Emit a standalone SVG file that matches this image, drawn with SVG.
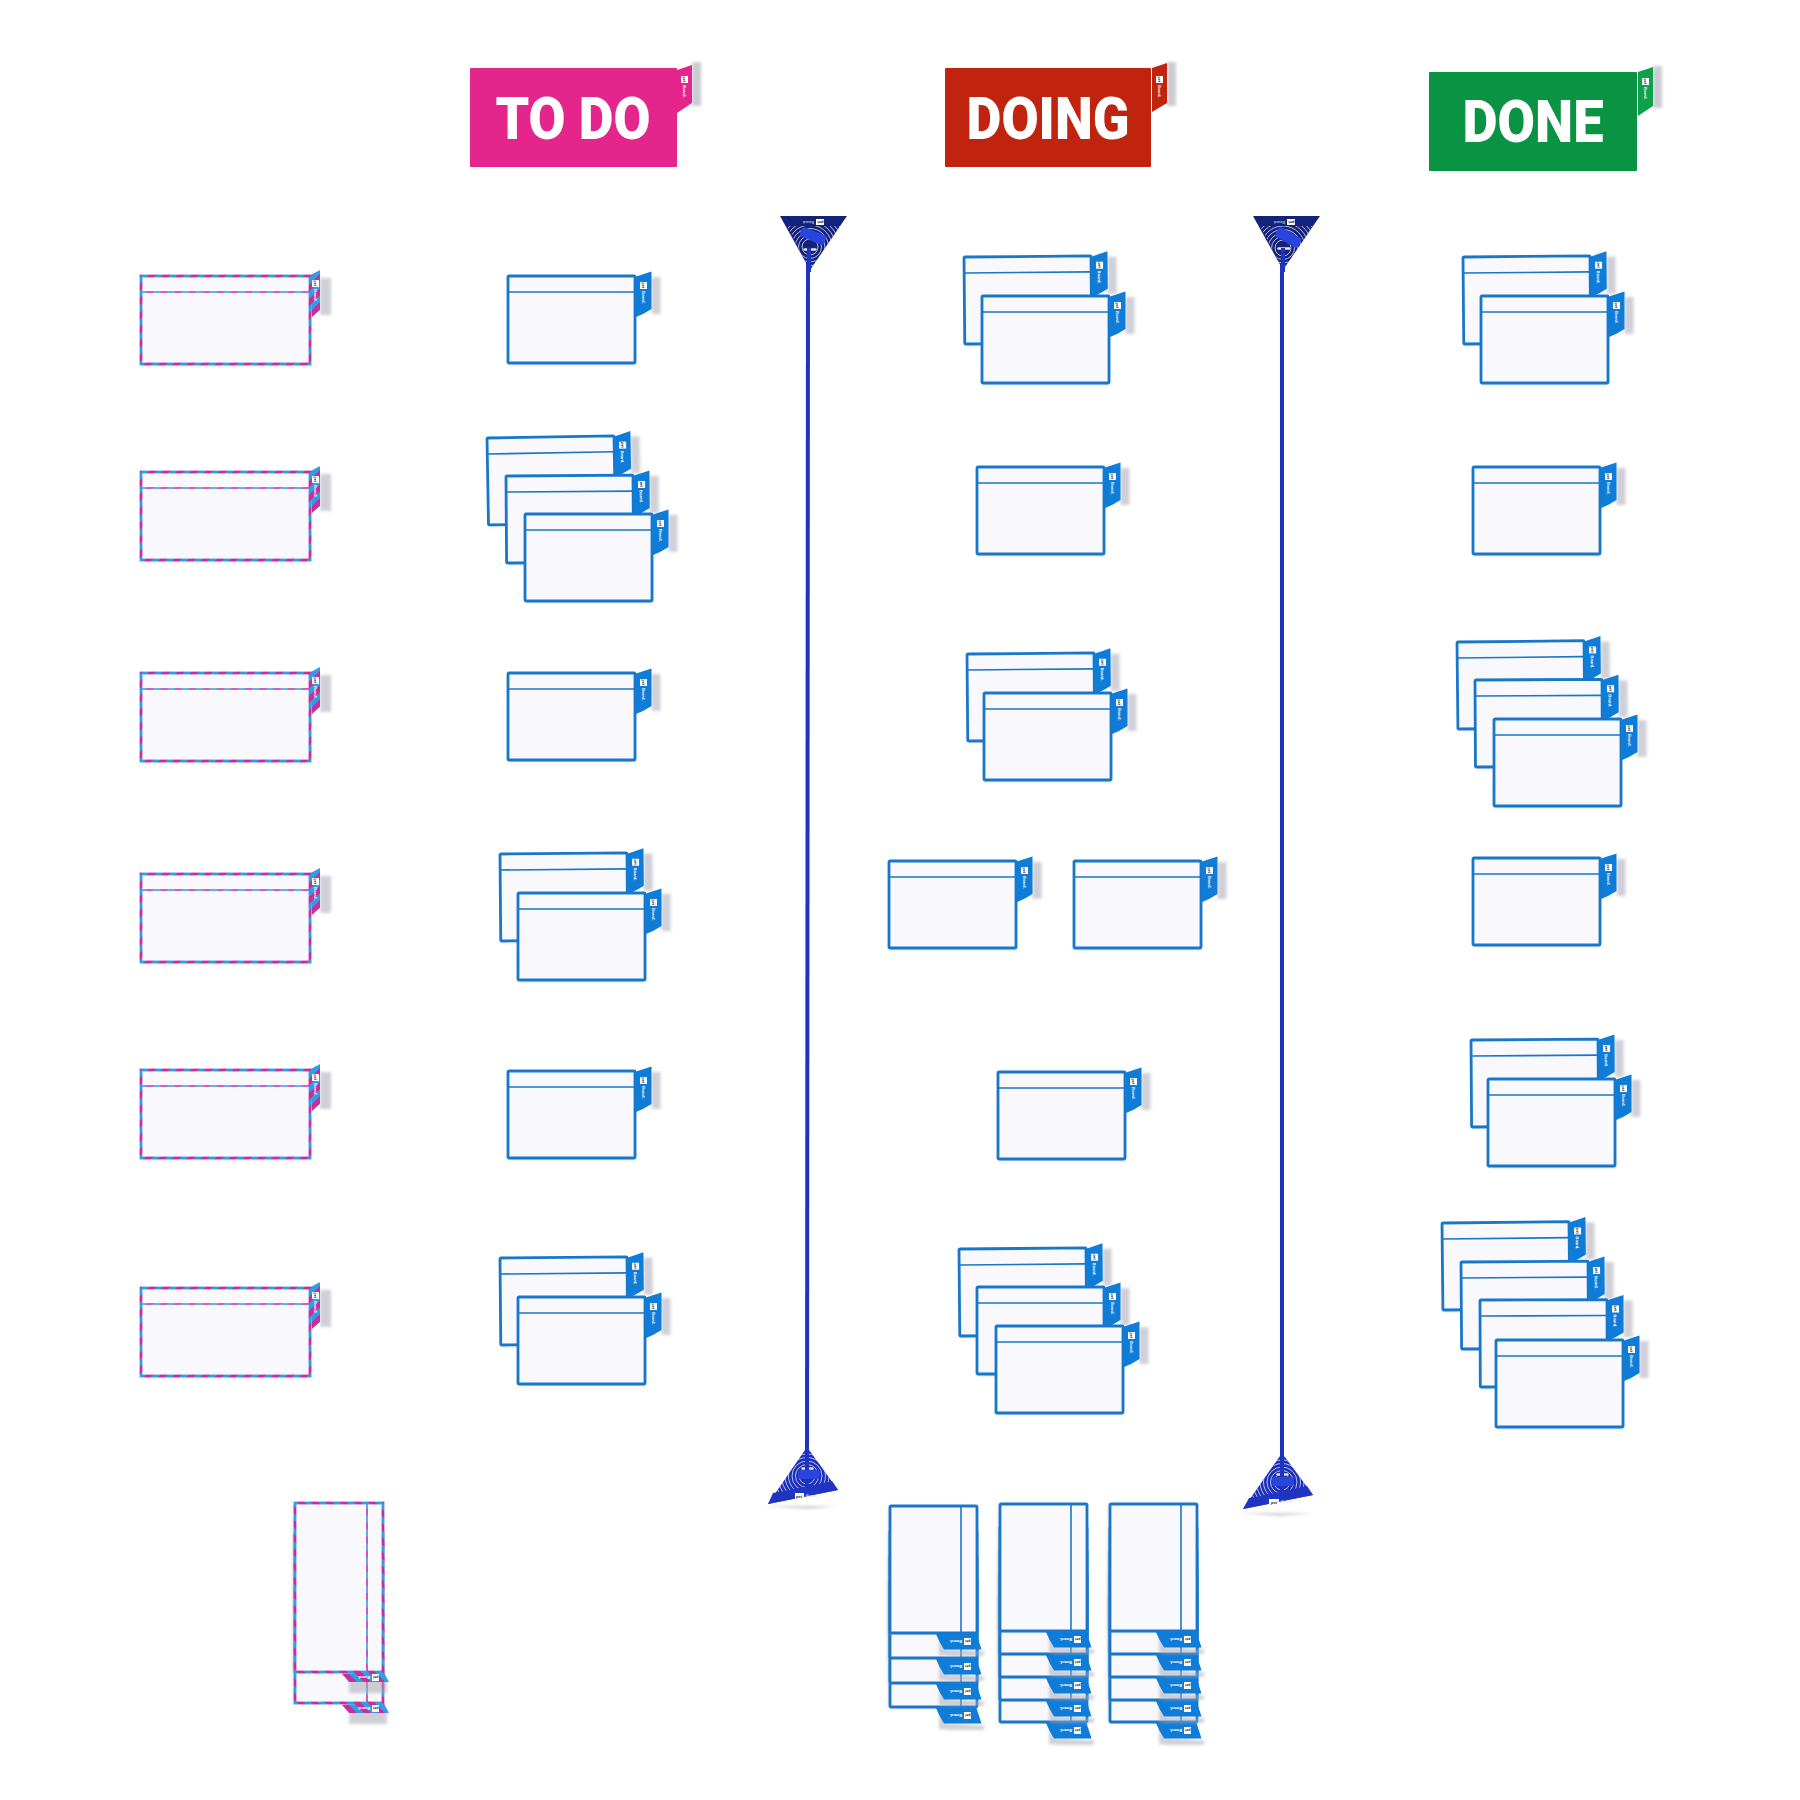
<svg xmlns="http://www.w3.org/2000/svg" width="1800" height="1800" viewBox="0 0 1800 1800">
<style>
.face{fill:#f8f8fd}
.bb{fill:none;stroke:#1877c9;stroke-width:2.8}
.bl{stroke:#1877c9;stroke-width:1.6}
.pb{fill:none;stroke:url(#stripes);stroke-width:2.8}
.pl{stroke:url(#stripes);stroke-width:1.6}
.sh{fill:#a9a9b8;opacity:.55;filter:url(#blur)}
.cs{fill:#a9a9b8;opacity:.35;filter:url(#blur)}
.tabtxt{font-family:"Liberation Sans",Arial,sans-serif;font-size:4px;font-weight:700;fill:#fff}
.badge{font-family:"Liberation Sans",Arial,sans-serif;font-size:3.6px;font-weight:700;fill:#222}
.hd{font-family:Roboto,"Liberation Sans",sans-serif;font-size:59px;font-weight:900;fill:#fff;text-anchor:middle}
.rope{fill:none;stroke:#1c34c0;stroke-width:4}
.sw{fill:none;stroke:#dfe4ff;stroke-width:.9;opacity:.9}
.knot{fill:#2a44e0}
.ring{fill:#e8e8f0;stroke:#333;stroke-width:.6}
.at{font-family:"Liberation Sans",Arial,sans-serif;font-size:4px;fill:#dfe4ff}
.ab{font-family:"Liberation Sans",Arial,sans-serif;font-size:4px;font-weight:700;fill:#222}
</style>
<defs>
<pattern id="stripes" patternUnits="userSpaceOnUse" width="10" height="10" patternTransform="rotate(45)">
<rect width="10" height="10" fill="#cf2a96"/><rect width="5" height="10" fill="#2e9fe6"/>
</pattern>
<filter id="blur" x="-50%" y="-50%" width="200%" height="200%"><feGaussianBlur stdDeviation="1.8"/></filter>
<g id="tabmark">
<rect x="0" y="0" width="7" height="7" fill="#fff"/>
<text class="badge" transform="translate(2.2,.6) rotate(90)">pet</text>
<text class="tabtxt" transform="translate(1.5,9) rotate(90)">Board.</text>
</g>
<g id="body">
<rect class="cs" x="1" y="2" width="127" height="87"/>
<rect class="face" x="0" y="0" width="127" height="87"/>
<path class="bl" d="M0 16H127" fill="none"/>
<rect class="bb" x="0" y="0" width="127" height="87" rx="1"/>
<path d="M126.500 1L143.500-4.500V33Q136 38 128 41Z" fill="#0f7dd8"/>
<use href="#tabmark" x="132" y="6"/>
</g>
<g id="card">
<rect class="sh" x="143.500" y="1" width="9" height="37"/>
<use href="#body"/>
</g>
<g id="vcard">
<path class="sh" d="M143.500 -6L148 -4V30L147 40H132L141 34Z" transform="translate(2,-2)"/>
<use href="#body"/>
</g>
<g id="pbody">
<rect class="cs" x="1" y="2" width="169" height="88"/>
<rect class="face" x="0" y="0" width="169" height="88"/>
<path class="pl" d="M0 16H169" fill="none"/>
<rect class="pb" x="0" y="0" width="169" height="88"/>
<path d="M168 0L179-6V34L171 41Z" fill="url(#stripes)"/>
<use href="#tabmark" x="171" y="4"/>
</g>
<g id="pcard">
<rect class="sh" x="179" y="2" width="11" height="37"/>
<use href="#pbody"/>
</g>
<g id="pvcard">
<rect class="sh" x="176" y="-4" width="14" height="38"/>
<use href="#pbody"/>
</g>
<g id="swirl">
<circle r="8"/><circle r="11.500"/><circle r="15"/><circle r="18.500"/><circle r="22"/><circle r="25.500"/><circle r="29"/><circle r="32.500"/><circle r="36"/><circle r="39.500"/><circle r="43"/>
</g>
<clipPath id="ct1"><path d="M787 226H841L810 270Z"/></clipPath>
<clipPath id="cb1"><path d="M807 1447L833 1481L775 1493Z"/></clipPath>
<clipPath id="ct2"><path d="M1260 226H1314L1283 270Z"/></clipPath>
<clipPath id="cb2"><path d="M1282 1453L1307 1486L1251 1498Z"/></clipPath>
</defs>

<g id="header-todo">
<path d="M692 62H701V106H692Z" fill="#a9a9b8" opacity=".6" filter="url(#blur)"/>
<rect x="470" y="68" width="207" height="99" rx="1" fill="#e4268c"/>
<path d="M677 70L692 65V103L677 113Z" fill="#e4268c"/>
<use href="#tabmark" x="681" y="76"/>
<text class="hd" x="573" y="139" textLength="155" lengthAdjust="spacingAndGlyphs">TO DO</text>
</g>
<g id="header-doing">
<path d="M1167 62H1176V106H1167Z" fill="#a9a9b8" opacity=".6" filter="url(#blur)"/>
<rect x="945" y="68" width="206" height="99" rx="1" fill="#c0240e"/>
<path d="M1152 68L1167 63V103L1152 112Z" fill="#c0240e"/>
<use href="#tabmark" x="1156" y="76"/>
<text class="hd" x="1048" y="139" textLength="163" lengthAdjust="spacingAndGlyphs">DOING</text>
</g>
<g id="header-done">
<path d="M1653 66H1662V108H1653Z" fill="#a9a9b8" opacity=".6" filter="url(#blur)"/>
<rect x="1429" y="72" width="208" height="99" rx="1" fill="#0b9344"/>
<path d="M1638 72L1653 67V106L1638 116Z" fill="#0fa04c"/>
<use href="#tabmark" x="1642" y="78"/>
<text class="hd" x="1533" y="142" textLength="141" lengthAdjust="spacingAndGlyphs">DONE</text>
</g>

<g id="connectors">
<path class="rope" d="M808 256L807 1490"/>
<path class="rope" d="M1282 256L1282 1490"/>
</g>

<g id="anchor-top-1">
<path d="M780 216H847L810 270Z" fill="#14237a"/>
<g class="sw" clip-path="url(#ct1)"><use href="#swirl" x="810" y="247"/></g>
<rect x="803" y="248" width="14" height="3" rx="1.500" class="ring"/>
<path class="rope" d="M809 248V272"/>
<rect x="800" y="231" width="26" height="10" rx="3" class="knot" transform="rotate(22 813 236)"/>
<rect x="816" y="219" width="8" height="6" fill="#fff"/>
<text class="ab" transform="translate(823.500,221) rotate(180)">pet</text>
<text class="at" transform="translate(814,221) rotate(180)">Board.</text>
</g>
<g id="anchor-bottom-1">
<path d="M764 1506H838L807 1509Z" class="sh"/>
<path d="M807 1447L838 1490L768 1504Z" fill="#1c2fb8"/>
<path d="M773 1493L832 1481L838 1490L768 1504Z" fill="#2034c4"/>
<g class="sw" clip-path="url(#cb1)"><use href="#swirl" x="807" y="1476"/></g>
<rect x="801" y="1467" width="13" height="3" rx="1.500" class="ring"/>
<path class="rope" d="M807 1440V1490"/>
<rect x="798" y="1470" width="22" height="9" rx="3" class="knot"/>
<rect x="795" y="1493" width="9" height="6" fill="#fff"/>
<text class="ab" x="796" y="1497.500">pet</text>
<text class="at" x="806" y="1497">Board.</text>
</g>
<g id="anchor-top-2">
<path d="M1253 216H1320L1283 270Z" fill="#14237a"/>
<g class="sw" clip-path="url(#ct2)"><use href="#swirl" x="1283" y="248"/></g>
<rect x="1277" y="247" width="14" height="3" rx="1.500" class="ring"/>
<path class="rope" d="M1283 248V272"/>
<rect x="1275" y="232" width="26" height="11" rx="3" class="knot" transform="rotate(30 1288 238)"/>
<rect x="1287" y="219" width="8" height="6" fill="#fff"/>
<text class="ab" transform="translate(1294.500,221) rotate(180)">pet</text>
<text class="at" transform="translate(1285,221) rotate(180)">Board.</text>
</g>
<g id="anchor-bottom-2">
<path d="M1238 1513H1312L1280 1516Z" class="sh"/>
<path d="M1282 1453L1313 1495L1243 1509Z" fill="#1c2fb8"/>
<path d="M1249 1498L1307 1486L1313 1495L1243 1509Z" fill="#2034c4"/>
<g class="sw" clip-path="url(#cb2)"><use href="#swirl" x="1282" y="1482"/></g>
<rect x="1276" y="1473" width="13" height="3" rx="1.500" class="ring"/>
<path class="rope" d="M1282 1445V1492"/>
<rect x="1272" y="1477" width="22" height="9" rx="3" class="knot"/>
<rect x="1269" y="1499" width="10" height="6" fill="#fff"/>
<text class="ab" x="1271" y="1503.500">pet</text>
<text class="at" x="1281" y="1503">Board.</text>
</g>

<g id="backlog">
<use id="p1" href="#pcard" x="141" y="276"/>
<use id="p2" href="#pcard" x="141" y="472"/>
<use id="p3" href="#pcard" x="141" y="673"/>
<use id="p4" href="#pcard" x="141" y="874"/>
<use id="p5" href="#pcard" x="141" y="1070"/>
<use id="p6" href="#pcard" x="141" y="1288"/>
<use id="p7" href="#pvcard" transform="translate(383,1534) rotate(90)"/>
<use id="p8" href="#pvcard" transform="translate(383,1503) rotate(90)"/>
</g>

<g id="todo">
<use id="t1" href="#card" x="508" y="276"/>
<use id="t2a" href="#card" transform="translate(487,438) rotate(-1)"/>
<use id="t2b" href="#card" transform="translate(506,476) rotate(-.4)"/>
<use id="t2c" href="#card" x="525" y="514"/>
<use id="t3" href="#card" x="508" y="673"/>
<use id="t4a" href="#card" transform="translate(500,854) rotate(-.5)"/>
<use id="t4b" href="#card" x="518" y="893"/>
<use id="t5" href="#card" x="508" y="1071"/>
<use id="t6a" href="#card" transform="translate(500,1258) rotate(-.5)"/>
<use id="t6b" href="#card" x="518" y="1297"/>
</g>

<g id="doing">
<use id="d1a" href="#card" transform="translate(964,257) rotate(-.5)"/>
<use id="d1b" href="#card" x="982" y="296"/>
<use id="d2" href="#card" x="977" y="467"/>
<use id="d3a" href="#card" transform="translate(967,654) rotate(-.5)"/>
<use id="d3b" href="#card" x="984" y="693"/>
<use id="d4a" href="#card" x="889" y="861"/>
<use id="d4b" href="#card" x="1074" y="861"/>
<use id="d5" href="#card" x="998" y="1072"/>
<use id="d6a" href="#card" transform="translate(959,1249) rotate(-.5)"/>
<use id="d6b" href="#card" x="977" y="1287"/>
<use id="d6c" href="#card" x="996" y="1326"/>
</g>

<g id="doing-vertical">
<use href="#vcard" transform="translate(977,1580) rotate(90)"/>
<use href="#vcard" transform="translate(977,1556) rotate(90)"/>
<use href="#vcard" transform="translate(977,1531) rotate(90)"/>
<use href="#vcard" transform="translate(977,1506) rotate(90)"/>
<use href="#vcard" transform="translate(1087,1595) rotate(90)"/>
<use href="#vcard" transform="translate(1087,1573) rotate(90)"/>
<use href="#vcard" transform="translate(1087,1550) rotate(90)"/>
<use href="#vcard" transform="translate(1087,1527) rotate(90)"/>
<use href="#vcard" transform="translate(1087,1504) rotate(90)"/>
<use href="#vcard" transform="translate(1197,1595) rotate(90)"/>
<use href="#vcard" transform="translate(1197,1573) rotate(90)"/>
<use href="#vcard" transform="translate(1197,1550) rotate(90)"/>
<use href="#vcard" transform="translate(1197,1527) rotate(90)"/>
<use href="#vcard" transform="translate(1197,1504) rotate(90)"/>
</g>

<g id="done">
<use id="n1a" href="#card" transform="translate(1463,257) rotate(-.5)"/>
<use id="n1b" href="#card" x="1481" y="296"/>
<use id="n2" href="#card" x="1473" y="467"/>
<use id="n3a" href="#card" transform="translate(1457,642) rotate(-.6)"/>
<use id="n3b" href="#card" transform="translate(1475,680) rotate(-.3)"/>
<use id="n3c" href="#card" x="1494" y="719"/>
<use id="n4" href="#card" x="1473" y="858"/>
<use id="n5a" href="#card" transform="translate(1471,1040) rotate(-.4)"/>
<use id="n5b" href="#card" x="1488" y="1079"/>
<use id="n6a" href="#card" transform="translate(1442,1223) rotate(-.6)"/>
<use id="n6b" href="#card" transform="translate(1461,1262) rotate(-.4)"/>
<use id="n6c" href="#card" transform="translate(1480,1300) rotate(-.2)"/>
<use id="n6d" href="#card" x="1496" y="1340"/>
</g>
</svg>
